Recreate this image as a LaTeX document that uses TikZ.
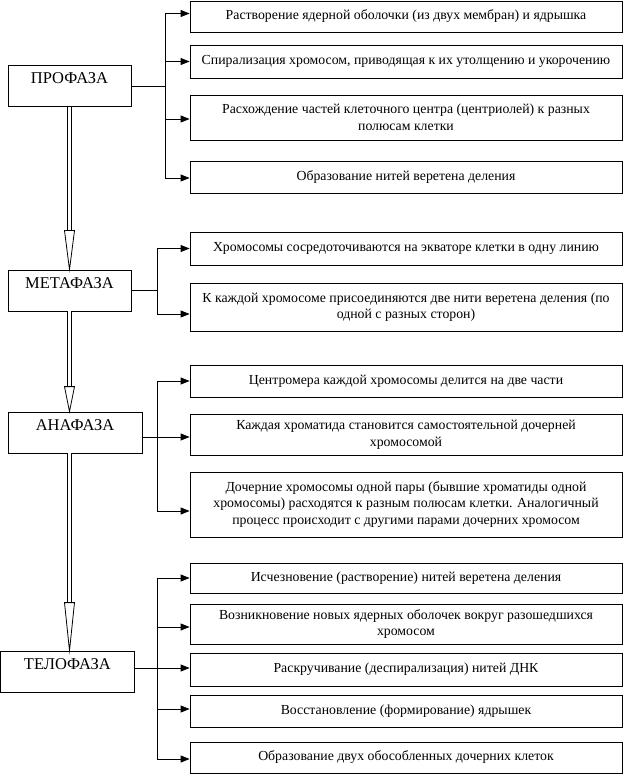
\documentclass[tikz,border=0pt]{standalone}
\usepackage{fontspec}
\setmainfont{Liberation Serif}
\usetikzlibrary{arrows.meta}
\begin{document}
\begin{tikzpicture}[x=1pt,y=-1pt,
  ibox/.style={draw, line width=0.8pt, minimum width=432pt, inner sep=0pt, align=center,
    font=\fontsize{13.8}{16.5}\selectfont},
  phbox/.style={draw, line width=0.8pt, minimum height=41pt, inner sep=0pt,
    font=\fontsize{16.5}{18}\selectfont, text height=11pt, text depth=15pt},
  arr/.style={line width=0.8pt, -{Triangle[length=9pt,width=7pt]}},
  conn/.style={line width=0.8pt},
  shaft/.style={line width=0.8pt, double, double distance=2.6pt},
  head/.style={line width=0.8pt, fill=white}]
\useasboundingbox (0,0) rectangle (623,775);
% phase boxes
\node[phbox, minimum width=123pt] (P) at (69.5,86) {ПРОФАЗА};
\node[phbox, minimum width=123pt] (M) at (69.5,290.5) {МЕТАФАЗА};
\node[phbox, minimum width=134pt] (A) at (75,432.5) {АНАФАЗА};
\node[phbox, minimum width=134pt] (T) at (67.4,671.5) {ТЕЛОФАЗА};
% item boxes
\node[ibox, minimum height=31pt] (p1) at (406,16.5) {Растворение ядерной оболочки (из двух мембран) и ядрышка};
\node[ibox, minimum height=33pt] (p2) at (406,61.5) {Спирализация хромосом, приводящая к их утолщению и укорочению};
\node[ibox, minimum height=45pt] (p3) at (406,117.5) {Расхождение частей клеточного центра (центриолей) к разных\\полюсам клетки};
\node[ibox, minimum height=32pt] (p4) at (406,177) {Образование нитей веретена деления};
\node[ibox, minimum height=33pt] (m1) at (406,248.5) {Хромосомы сосредоточиваются на экваторе клетки в одну линию};
\node[ibox, minimum height=48pt] (m2) at (406,307) {К каждой хромосоме присоединяются две нити веретена деления (по\\одной с разных сторон)};
\node[ibox, minimum height=32pt] (a1) at (406,381) {Центромера каждой хромосомы делится на две части};
\node[ibox, minimum height=41pt] (a2) at (406,434.5) {Каждая хроматида становится самостоятельной дочерней\\хромосомой};
\node[ibox, minimum height=65pt] (a3) at (406,504.5) {Дочерние хромосомы одной пары (бывшие хроматиды одной\\хромосомы) расходятся к разным полюсам клетки. Аналогичный\\процесс происходит с другими парами дочерних хромосом};
\node[ibox, minimum height=30pt] (t1) at (406,578) {Исчезновение (растворение) нитей веретена деления};
\node[ibox, minimum height=40pt] (t2) at (406,624) {Возникновение новых ядерных оболочек вокруг разошедшихся\\хромосом};
\node[ibox, minimum height=33pt] (t3) at (406,669.5) {Раскручивание (деспирализация) нитей ДНК};
\node[ibox, minimum height=32pt] (t4) at (406,711) {Восстановление (формирование) ядрышек};
\node[ibox, minimum height=31pt] (t5) at (406,757.5) {Образование двух обособленных дочерних клеток};
% branch junctions
\coordinate (pj) at (165,86);
\coordinate (mj) at (157,290.5);
\coordinate (aj) at (157,437);
\coordinate (tj) at (157,668);
% prophase
\draw[conn] (P.east) -- (pj);
\draw[arr] (pj) |- ([yshift=3pt]p1.west);
\draw[arr] (pj) |- (p2.west);
\draw[arr] (pj) |- ([yshift=-1.5pt]p3.west);
\draw[arr] (pj) |- ([yshift=-1pt]p4.west);
% metaphase
\draw[conn] (M.east) -- (mj);
\draw[arr] (mj) |- (m1.west);
\draw[arr] (mj) |- ([yshift=-7pt]m2.west);
% anaphase
\draw[conn] ([yshift=-4.5pt]A.east) -- (aj);
\draw[arr] (aj) |- (a1.west);
\draw[arr] (aj) |- ([yshift=-2.5pt]a2.west);
\draw[arr] (aj) |- ([yshift=-6.5pt]a3.west);
% telophase
\draw[conn] ([yshift=3.5pt]T.east) -- (tj);
\draw[arr] (tj) |- (t1.west);
\draw[arr] (tj) |- ([yshift=-3pt]t2.west);
\draw[arr] (tj) |- ([yshift=1.5pt]t3.west);
\draw[arr] (tj) |- ([yshift=2pt]t4.west);
\draw[arr] (tj) |- ([yshift=-1.5pt]t5.west);
% double arrows between phases
\draw[shaft] (P.south) -- ([yshift=39pt]P.south |- M.north);
\draw[head] ([shift={(-5pt,39pt)}]P.south |- M.north) -- ([shift={(5pt,39pt)}]P.south |- M.north) -- (P.south |- M.north) -- cycle;
\draw[shaft] (P.south |- M.south) -- ([yshift=25pt]P.south |- A.north);
\draw[head] ([shift={(-5pt,25pt)}]P.south |- A.north) -- ([shift={(5pt,25pt)}]P.south |- A.north) -- (P.south |- A.north) -- cycle;
\draw[shaft] (P.south |- A.south) -- ([yshift=48pt]P.south |- T.north);
\draw[head] ([shift={(-5pt,48pt)}]P.south |- T.north) -- ([shift={(5pt,48pt)}]P.south |- T.north) -- (P.south |- T.north) -- cycle;
\end{tikzpicture}
\end{document}
